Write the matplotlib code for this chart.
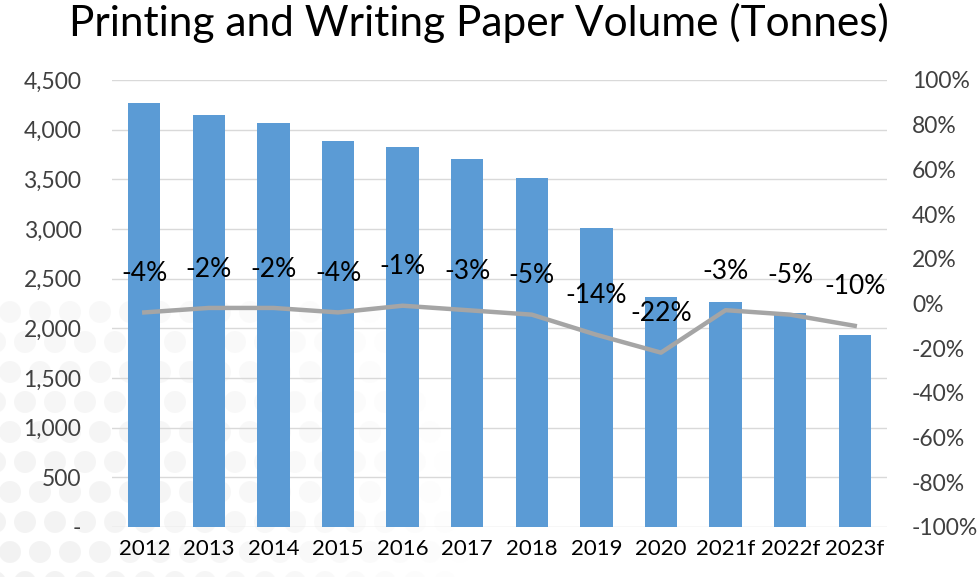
import numpy as np
import matplotlib
matplotlib.use("Agg")
import matplotlib.pyplot as plt
from matplotlib.patches import Ellipse
from matplotlib.ticker import FuncFormatter

# data
years = ['2012', '2013', '2014', '2015', '2016', '2017', '2018', '2019',
         '2020', '2021f', '2022f', '2023f']
volume = [4270, 4150, 4070, 3890, 3830, 3705, 3515, 3005, 2320, 2265, 2155, 1935]
change = [-4, -2, -2, -4, -1, -3, -5, -14, -22, -3, -5, -10]

plt.rcParams['font.family'] = ['Lato', 'DejaVu Sans']

bar_color = '#5B9BD5'
line_color = '#A5A5A5'
text_color = '#404040'

W, H = 978, 577
fig = plt.figure(figsize=(W / 100, H / 100), dpi=100)

# faint dotted decoration in the lower-left corner (pixels from bottom-left)
step = 30
for row, py in enumerate(np.arange(-5, 280, step)):
    shift = (step / 2) * (row % 2)
    for px in np.arange(-5 + shift, 560, step):
        a = max(0.0, 1 - np.hypot(px, py) / 470)
        if a <= 0:
            continue
        fig.patches.append(Ellipse((px / W, py / H), 22 / W, 22 / H,
                                   transform=fig.transFigure,
                                   facecolor='#E8E8E8', edgecolor='none',
                                   alpha=0.55 * a ** 0.7, zorder=0))

ax = fig.add_axes([0.1145, 0.0867, 0.7925, 0.7747])
ax.set_zorder(2)
ax.patch.set_visible(False)
x = np.arange(len(years))

ax.bar(x, volume, width=0.5, color=bar_color, zorder=2)
ax.set_xlim(-0.5, len(years) - 0.5)
ax.set_ylim(0, 4500)
ax.set_yticks(np.arange(0, 4501, 500))
ax.yaxis.set_major_formatter(FuncFormatter(lambda v, p: '-' if v == 0 else f'{v:,.0f}'))
ax.grid(True, axis='y', color='#D9D9D9', linewidth=1, zorder=0)
ax.set_axisbelow(True)
ax.set_xticks(x)
ax.set_xticklabels(years)
ax.tick_params(axis='y', length=0, labelsize=16.5, colors=text_color, pad=22)
ax.tick_params(axis='x', length=0, labelsize=16, colors='black', pad=9)
for s in ax.spines.values():
    s.set_visible(False)

# secondary axis: year-on-year change
ax2 = ax.twinx()
ax2.set_zorder(3)
ax2.patch.set_visible(False)
ax2.plot(x, change, color=line_color, linewidth=3.2, zorder=3)
ax2.set_ylim(-100, 100)
ax2.set_yticks(np.arange(-100, 101, 20))
ax2.yaxis.set_major_formatter(FuncFormatter(lambda v, p: f'{v:.0f}%'))
ax2.tick_params(axis='y', length=0, labelsize=16.5, colors=text_color, pad=18)
for s in ax2.spines.values():
    s.set_visible(False)

for xi, c in zip(x, change):
    ax2.annotate(f'{c}%', (xi, c), xytext=(0, 28), textcoords='offset points',
                 ha='center', va='center', fontsize=19, color='black')

fig.suptitle('Printing and Writing Paper Volume (Tonnes)', x=0.49, y=0.995,
             fontsize=30.5, color='black', va='top')

fig.savefig('out.png', dpi=100)
